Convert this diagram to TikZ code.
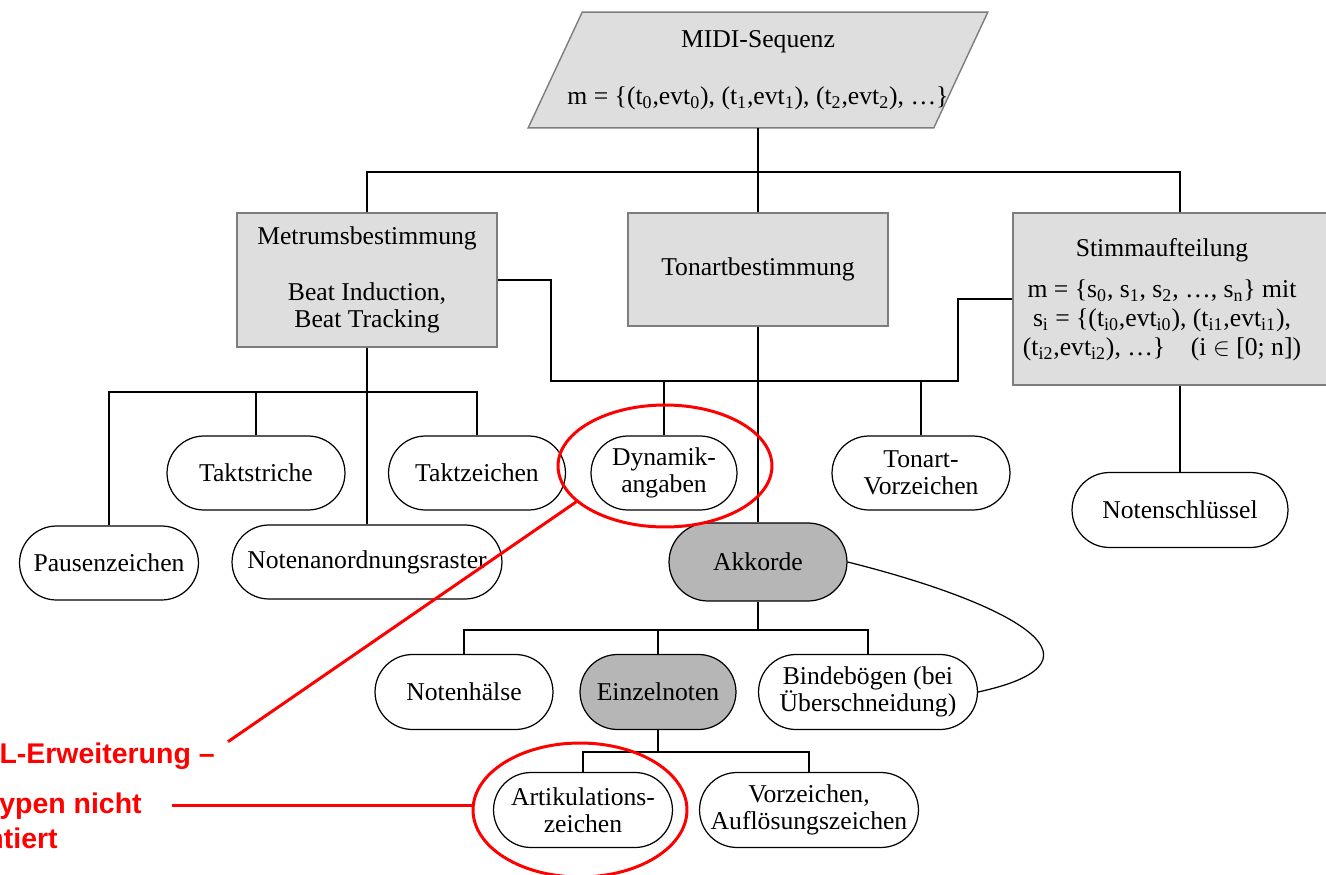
\documentclass[tikz,border=0pt]{standalone}
\usepackage{fontspec}
\setmainfont{Liberation Serif}
\newfontfamily\annotfont{Liberation Sans}
\usetikzlibrary{shapes.misc, shapes.geometric, backgrounds}
\definecolor{boxgray}{RGB}{222,222,222}
\definecolor{chordgray}{RGB}{182,182,182}
\definecolor{framegray}{RGB}{125,125,125}

\begin{document}
\begin{tikzpicture}[x=0.02cm, y=-0.02cm,
  font=\fontsize{14.6}{15.5}\selectfont,
  conn/.style={line width=0.7pt},
  box/.style={rectangle, draw=framegray, fill=boxgray, line width=0.8pt, align=center},
  pill/.style={rounded rectangle, draw, fill=white, line width=0.7pt, align=center, minimum height=1.48cm, inner sep=2pt},
  darkpill/.style={pill, fill=chordgray},
  ring/.style={ellipse, draw=red, line width=1.7pt},
  annot/.style={font=\annotfont\bfseries\fontsize{16.2}{19}\selectfont, text=red, inner sep=0pt, anchor=base east},
  redline/.style={draw=red, line width=1.7pt}]
\useasboundingbox (0,0) rectangle (1326,875);
\clip (0,0) rectangle (1326,875);

% Eingabe
\node[minimum width=8.1cm, minimum height=2.3cm, align=center] (midi) at (758,70)
  {MIDI-Sequenz\\[17pt]m = \{(t\textsubscript{0},evt\textsubscript{0}), (t\textsubscript{1},evt\textsubscript{1}), (t\textsubscript{2},evt\textsubscript{2}), \dots\}};
\begin{scope}[on background layer]
\draw[fill=boxgray, draw=framegray, line width=0.8pt] ([xshift=-0.54cm]midi.south west) -- ([xshift=0.54cm]midi.north west)
  -- ([xshift=0.54cm]midi.north east) -- ([xshift=-0.54cm]midi.south east) -- cycle;
\end{scope}

% Analyse
\node[box, minimum width=5.2cm, minimum height=2.68cm] (metrum) at (367,280)
  {Metrumsbestimmung\\[16pt]Beat Induction,\\Beat Tracking};
\node[box, minimum width=5.2cm, minimum height=2.26cm] (tonart) at (758,269.5) {Tonartbestimmung};
\node[box, minimum width=6.68cm, minimum height=3.44cm] (stimm) at (1180,299) {};
\node[align=center] (stimmtext) at (1162,300)
  {Stimmaufteilung\\[8pt]m = \{s\textsubscript{0}, s\textsubscript{1}, s\textsubscript{2}, \dots, s\textsubscript{n}\} mit\\[1pt]
   s\textsubscript{i} = \{(t\textsubscript{i0},evt\textsubscript{i0}), (t\textsubscript{i1},evt\textsubscript{i1}),\\[1pt]
   (t\textsubscript{i2},evt\textsubscript{i2}), \dots\}\quad (i $\in$ [0; n])};

% Notationselemente
\node[pill, minimum width=3.7cm] (taktstr) at (256,473) {Taktstriche};
\node[pill, minimum width=3.68cm] (taktz) at (477,473) {Taktzeichen};
\node[pill, minimum width=3.72cm] (pause) at (109,563) {Pausenzeichen};
\node[pill, minimum width=5.54cm] (raster) at (367,562) {Notenanordnungsraster};
\node[pill, minimum width=3.06cm] (dyn) at (664,473) {Dynamik-\\angaben};
\node[pill, minimum width=3.7cm] (tvz) at (921,473) {Tonart-\\Vorzeichen};
\node[pill, minimum width=4.46cm, minimum height=1.5cm] (notensch) at (1180,510) {Notenschlüssel};
\node[darkpill, minimum width=3.7cm, minimum height=1.56cm] (akk) at (758,562) {Akkorde};
\node[pill, minimum width=3.7cm, minimum height=1.5cm] (hals) at (464,692) {Notenhälse};
\node[darkpill, minimum width=3.26cm, minimum height=1.5cm] (einzel) at (658,692) {Einzelnoten};
\node[pill, minimum width=4.52cm, minimum height=1.5cm] (binde) at (868,692) {Bindebögen (bei\\Überschneidung)};
\node[pill, minimum width=3.72cm, minimum height=1.5cm] (artik) at (583,810) {Artikulations-\\zeichen};
\node[pill, minimum width=4.52cm, minimum height=1.5cm] (vorz) at (809,810) {Vorzeichen,\\Auflösungszeichen};

% Verbindungen
\coordinate (tbus) at (758,172);
\coordinate (mbus) at (367,392);
\coordinate (kl) at (551,381);
\coordinate (kr) at (958,381);
\coordinate (abus) at (758,630);
\coordinate (ebus) at (658,752);
\draw[conn] (midi.south) -- (tonart.north);
\draw[conn] (metrum.north) |- (tbus) -| (stimm.north);
\draw[conn] (metrum.south) -- (raster.north);
\draw[conn] (pause.north) |- (mbus) -| (taktz.north);
\draw[conn] (taktstr.north) -- (taktstr.north |- mbus);
\draw[conn] (metrum.east) -| (kl) -- (kr) |- (stimm.west);
\draw[conn] (dyn.north) -- (dyn.north |- kl);
\draw[conn] (tvz.north) -- (tvz.north |- kl);
\draw[conn] (tonart.south) -- (akk.north);
\draw[conn] (stimm.south) -- (notensch.north);
\draw[conn] (akk.south) -- (abus);
\draw[conn] (hals.north) |- (abus) -| (binde.north);
\draw[conn] (einzel.north) -- (einzel.north |- abus);
\draw[conn] (akk.east) .. controls (1000,600) and (1125,660) .. (binde.east);
\draw[conn] (einzel.south) -- (ebus);
\draw[conn] (artik.north) |- (ebus) -| (vorz.north);

% Anmerkungen
\node[ring, minimum width=4.28cm, minimum height=2.44cm] (ring1) at (665,466) {};
\node[ring, minimum width=4.28cm, minimum height=2.68cm] (ring2) at (580,810) {};
\node[annot] (anno1) at (215,763) {L-Erweiterung –};
\node[annot] (anno2) at (142,813) {ypen nicht};
\node[annot] (anno3) at (58,848) {ntiert};
\draw[redline] ([xshift=0.26cm, yshift=0.28cm]anno1.east) -- (ring1.202);
\draw[redline] ([xshift=0.6cm]anno2.east) -- (anno2.east -| ring2.west);
\end{tikzpicture}
\end{document}
